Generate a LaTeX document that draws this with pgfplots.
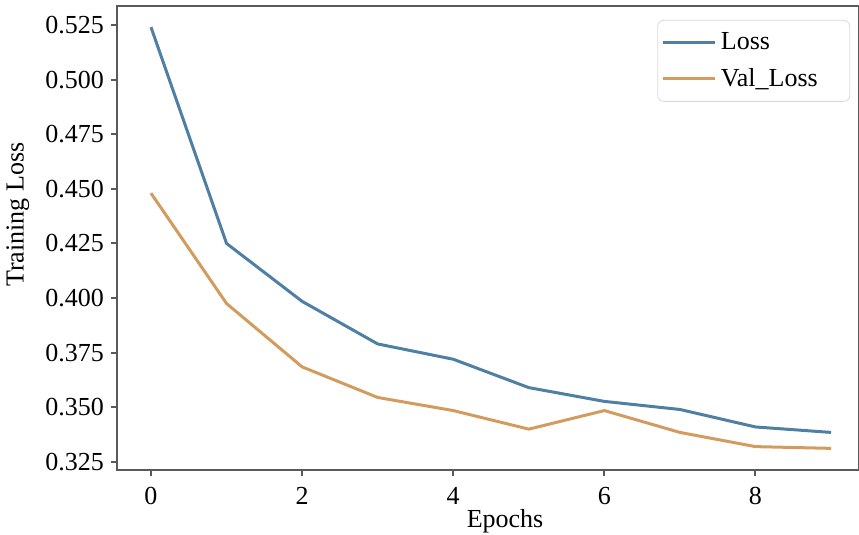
\documentclass[border=0pt]{standalone}
\usepackage{fontspec}
\setmainfont{Liberation Serif}
\usepackage{pgfplots}
\pgfplotsset{compat=1.18}

\definecolor{lossblue}{HTML}{4F7FA2}
\definecolor{valorange}{HTML}{D29C5E}
\definecolor{spine}{HTML}{5A5A5A}

\begin{document}
\begin{tikzpicture}
\begin{axis}[
  name=ax, at={(0,0)}, anchor=south west,
  scale only axis, width=371pt, height=232pt,
  xmin=-0.45, xmax=9.37, ymin=0.3213, ymax=0.5337,
  xtick={0,2,4,6,8}, ytick={0.325,0.35,...,0.526},
  font=\fontsize{13}{15}\selectfont,
  /pgf/number format/assume math mode=true,
  yticklabel style={/pgf/number format/.cd, fixed, fixed zerofill, precision=3},
  xticklabel style={yshift=-2pt},
  tick align=outside, major tick length=3pt,
  tick style={spine, line width=1pt},
  axis line style={spine, line width=1.3pt},
  xtick pos=bottom, ytick pos=left,
  xlabel={Epochs}, ylabel={Training Loss},
  xlabel style={at={(rel axis cs:0.523,0)}, anchor=north, yshift=-16pt},
  ylabel style={at={(rel axis cs:-0.1335,0.55)}, anchor=center},
  legend style={at={(rel axis cs:0.988,0.97)}, anchor=north east,
    draw=black!15, rounded corners=3pt, inner xsep=2pt, inner ysep=4pt,
    font=\fontsize{13}{15}\selectfont, row sep=4pt},
  legend cell align=left,
  legend image code/.code={\draw[#1, line width=1.6pt] (0pt,0pt) -- (26pt,0pt);},
  every axis plot/.append style={line width=1.5pt},
]
\addplot[lossblue] coordinates {
  (0,0.5240)(1,0.4250)(2,0.3985)(3,0.3790)(4,0.3720)
  (5,0.3590)(6,0.3527)(7,0.3490)(8,0.3410)(9,0.3385)};
\addplot[valorange] coordinates {
  (0,0.4480)(1,0.3975)(2,0.3685)(3,0.3545)(4,0.3485)
  (5,0.3400)(6,0.3485)(7,0.3385)(8,0.3320)(9,0.3312)};
\legend{Loss, Val\_Loss\rule{12pt}{0pt}}
\end{axis}
\pgfresetboundingbox
\path[use as bounding box] (-58.5pt,-32.5pt) rectangle (371pt,235pt);
\end{tikzpicture}
\end{document}
